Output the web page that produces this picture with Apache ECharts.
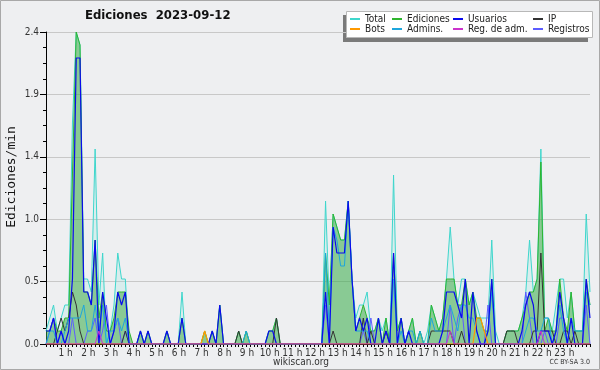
<!DOCTYPE html>
<html>
<head>
<meta charset="utf-8">
<script src="https://cdn.jsdelivr.net/npm/echarts@6/dist/echarts.min.js"></script>
<style>
  html, body { margin: 0; padding: 0; background: #eeeff1; }
  #chart { width: 600px; height: 370px; }
</style>
</head>
<body>
<div id="chart"></div>
<script>
// ── Data: edits per minute, one value per 10 minutes (00:00 .. 24:00) ──
var hourLabels = ['1 h', '2 h', '3 h', '4 h', '5 h', '6 h', '7 h', '8 h', '9 h', '10 h', '11 h', '12 h',
  '13 h', '14 h', '15 h', '16 h', '17 h', '18 h', '19 h', '20 h', '21 h', '22 h', '23 h'];
var yTicks = [0, 0.48, 0.96, 1.44, 1.92, 2.4];

var total = [
  0.1, 0.2, 0.3, 0.1, 0.2, 0.3,   // 0 h
  0.3, 1.7, 2.4, 2.3, 0.5, 0.5,   // 1 h
  0.4, 1.5, 0.3, 0.7, 0.0, 0.1,   // 2 h
  0.3, 0.7, 0.5, 0.5, 0.0, 0.0,   // 3 h
  0.0, 0.1, 0.0, 0.1, 0.0, 0.0,   // 4 h
  0.0, 0.0, 0.1, 0.0, 0.0, 0.0,   // 5 h
  0.4, 0.0, 0.0, 0.0, 0.0, 0.0,   // 6 h
  0.1, 0.0, 0.1, 0.0, 0.3, 0.0,   // 7 h
  0.0, 0.0, 0.0, 0.1, 0.0, 0.1,   // 8 h
  0.0, 0.0, 0.0, 0.0, 0.0, 0.1,   // 9 h
  0.1, 0.2, 0.0, 0.0, 0.0, 0.0,   // 10 h
  0.0, 0.0, 0.0, 0.0, 0.0, 0.0,   // 11 h
  0.0, 0.0, 1.1, 0.3, 1.0, 0.9,   // 12 h
  0.8, 0.8, 1.1, 0.5, 0.2, 0.3,   // 13 h
  0.3, 0.4, 0.1, 0.1, 0.2, 0.1,   // 14 h
  0.2, 0.0, 1.3, 0.1, 0.2, 0.0,   // 15 h
  0.1, 0.2, 0.0, 0.1, 0.0, 0.1,   // 16 h
  0.3, 0.2, 0.1, 0.2, 0.5, 0.9,   // 17 h
  0.5, 0.3, 0.5, 0.5, 0.3, 0.4,   // 18 h
  0.3, 0.2, 0.2, 0.2, 0.8, 0.1,   // 19 h
  0.0, 0.0, 0.1, 0.1, 0.1, 0.1,   // 20 h
  0.2, 0.4, 0.8, 0.4, 0.5, 1.5,   // 21 h
  0.2, 0.2, 0.1, 0.3, 0.5, 0.5,   // 22 h
  0.2, 0.4, 0.1, 0.1, 0.1, 1.0,   // 23 h
  0.4
];

var ediciones = [
  0.1, 0.1, 0.2, 0.1, 0.1, 0.2,
  0.2, 1.3, 2.4, 2.3, 0.4, 0.4,
  0.3, 0.8, 0.2, 0.4, 0.1, 0.1,
  0.2, 0.4, 0.4, 0.4, 0.1, 0.0,
  0.0, 0.1, 0.0, 0.1, 0.0, 0.0,
  0.0, 0.0, 0.1, 0.0, 0.0, 0.0,
  0.2, 0.0, 0.0, 0.0, 0.0, 0.0,
  0.1, 0.0, 0.1, 0.0, 0.3, 0.0,
  0.0, 0.0, 0.0, 0.1, 0.0, 0.1,
  0.0, 0.0, 0.0, 0.0, 0.0, 0.1,
  0.1, 0.2, 0.0, 0.0, 0.0, 0.0,
  0.0, 0.0, 0.0, 0.0, 0.0, 0.0,
  0.0, 0.0, 0.7, 0.3, 1.0, 0.9,
  0.8, 0.8, 1.1, 0.5, 0.1, 0.2,
  0.3, 0.2, 0.1, 0.1, 0.2, 0.0,
  0.2, 0.0, 0.7, 0.1, 0.2, 0.0,
  0.1, 0.2, 0.0, 0.1, 0.0, 0.0,
  0.3, 0.2, 0.1, 0.2, 0.5, 0.5,
  0.5, 0.3, 0.3, 0.5, 0.3, 0.4,
  0.2, 0.2, 0.1, 0.1, 0.5, 0.0,
  0.0, 0.0, 0.1, 0.1, 0.1, 0.1,
  0.2, 0.3, 0.4, 0.4, 0.5, 1.4,
  0.1, 0.2, 0.1, 0.1, 0.5, 0.2,
  0.1, 0.4, 0.1, 0.1, 0.1, 0.5,
  0.3
];

var usuarios = [
  0.1, 0.1, 0.2, 0.0, 0.1, 0.0,
  0.1, 0.5, 2.2, 2.2, 0.4, 0.4,
  0.3, 0.8, 0.0, 0.4, 0.2, 0.0,
  0.1, 0.4, 0.3, 0.4, 0.0, 0.0,
  0.0, 0.1, 0.0, 0.1, 0.0, 0.0,
  0.0, 0.0, 0.1, 0.0, 0.0, 0.0,
  0.2, 0.0, 0.0, 0.0, 0.0, 0.0,
  0.0, 0.0, 0.1, 0.0, 0.3, 0.0,
  0.0, 0.0, 0.0, 0.0, 0.0, 0.0,
  0.0, 0.0, 0.0, 0.0, 0.0, 0.1,
  0.1, 0.0, 0.0, 0.0, 0.0, 0.0,
  0.0, 0.0, 0.0, 0.0, 0.0, 0.0,
  0.0, 0.0, 0.4, 0.0, 0.9, 0.7,
  0.7, 0.7, 1.1, 0.5, 0.1, 0.2,
  0.1, 0.2, 0.0, 0.0, 0.2, 0.0,
  0.1, 0.0, 0.7, 0.0, 0.2, 0.0,
  0.1, 0.0, 0.0, 0.0, 0.0, 0.0,
  0.0, 0.0, 0.0, 0.1, 0.4, 0.4,
  0.4, 0.3, 0.2, 0.5, 0.0, 0.4,
  0.1, 0.0, 0.0, 0.1, 0.5, 0.0,
  0.0, 0.0, 0.0, 0.0, 0.0, 0.0,
  0.1, 0.3, 0.4, 0.3, 0.0, 0.1,
  0.1, 0.1, 0.0, 0.1, 0.4, 0.2,
  0.0, 0.2, 0.0, 0.0, 0.0, 0.5,
  0.2
];

var ip = [
  0.0, 0.0, 0.0, 0.1, 0.2, 0.1,
  0.2, 0.4, 0.3, 0.1, 0.0, 0.0,
  0.0, 0.0, 0.0, 0.0, 0.0, 0.0,
  0.0, 0.0, 0.0, 0.1, 0.0, 0.0,
  0.0, 0.0, 0.0, 0.0, 0.0, 0.0,
  0.0, 0.0, 0.0, 0.0, 0.0, 0.0,
  0.0, 0.0, 0.0, 0.0, 0.0, 0.0,
  0.0, 0.0, 0.0, 0.0, 0.0, 0.0,
  0.0, 0.0, 0.0, 0.1, 0.0, 0.0,
  0.0, 0.0, 0.0, 0.0, 0.0, 0.0,
  0.0, 0.2, 0.0, 0.0, 0.0, 0.0,
  0.0, 0.0, 0.0, 0.0, 0.0, 0.0,
  0.0, 0.0, 0.0, 0.0, 0.1, 0.0,
  0.0, 0.0, 0.0, 0.0, 0.0, 0.0,
  0.2, 0.0, 0.1, 0.0, 0.0, 0.0,
  0.1, 0.0, 0.0, 0.0, 0.0, 0.0,
  0.0, 0.0, 0.0, 0.0, 0.0, 0.0,
  0.1, 0.1, 0.1, 0.1, 0.1, 0.1,
  0.0, 0.0, 0.1, 0.0, 0.0, 0.0,
  0.0, 0.0, 0.0, 0.0, 0.0, 0.0,
  0.0, 0.0, 0.1, 0.1, 0.1, 0.0,
  0.0, 0.0, 0.0, 0.1, 0.1, 0.7,
  0.1, 0.1, 0.1, 0.0, 0.0, 0.1,
  0.1, 0.0, 0.1, 0.0, 0.0, 0.0,
  0.0
];

var bots = [
  0, 0, 0, 0, 0, 0,  0, 0, 0, 0, 0, 0,  0, 0, 0, 0, 0, 0,  0, 0, 0, 0, 0, 0,
  0, 0, 0, 0, 0, 0,  0, 0, 0, 0, 0, 0,  0, 0, 0, 0, 0, 0,
  0.1, 0, 0, 0, 0, 0,
  0, 0, 0, 0, 0, 0,  0, 0, 0, 0, 0, 0,  0, 0, 0, 0, 0, 0,  0, 0, 0, 0, 0, 0,
  0, 0, 0, 0, 0, 0,  0, 0, 0, 0, 0, 0,  0, 0, 0, 0, 0, 0,  0, 0, 0, 0, 0, 0,
  0, 0, 0, 0, 0, 0,  0, 0, 0, 0, 0, 0,  0, 0, 0, 0, 0, 0,
  0.2, 0.2, 0.1, 0, 0, 0,
  0, 0, 0, 0, 0, 0,  0, 0, 0, 0, 0, 0,  0, 0, 0, 0, 0, 0,  0, 0, 0, 0, 0, 0,
  0
];

var admins = [
  0.0, 0.1, 0.1, 0.0, 0.0, 0.1,
  0.2, 0.2, 0.2, 0.2, 0.3, 0.1,
  0.1, 0.3, 0.1, 0.3, 0.0, 0.1,
  0.1, 0.2, 0.1, 0.2, 0.0, 0.0,
  0.0, 0.0, 0.0, 0.0, 0.0, 0.0,
  0.0, 0.0, 0.0, 0.0, 0.0, 0.0,
  0.0, 0.0, 0.0, 0.0, 0.0, 0.0,
  0.0, 0.0, 0.0, 0.0, 0.0, 0.0,
  0.0, 0.0, 0.0, 0.0, 0.0, 0.1,
  0.0, 0.0, 0.0, 0.0, 0.0, 0.0,
  0.0, 0.0, 0.0, 0.0, 0.0, 0.0,
  0.0, 0.0, 0.0, 0.0, 0.0, 0.0,
  0.0, 0.0, 0.7, 0.1, 0.9, 0.8,
  0.6, 0.6, 1.1, 0.5, 0.1, 0.1,
  0.1, 0.1, 0.0, 0.0, 0.0, 0.0,
  0.0, 0.0, 0.5, 0.0, 0.1, 0.0,
  0.1, 0.1, 0.0, 0.1, 0.0, 0.0,
  0.2, 0.1, 0.1, 0.1, 0.2, 0.3,
  0.2, 0.1, 0.3, 0.3, 0.2, 0.2,
  0.1, 0.0, 0.0, 0.1, 0.4, 0.0,
  0.0, 0.0, 0.0, 0.0, 0.0, 0.0,
  0.0, 0.1, 0.2, 0.2, 0.1, 0.1,
  0.2, 0.2, 0.0, 0.1, 0.3, 0.1,
  0.0, 0.2, 0.1, 0.1, 0.1, 0.4,
  0.3
];

var regAdm = [
  0, 0, 0, 0, 0, 0,  0, 0, 0, 0, 0, 0,
  0, 0, 0.1, 0, 0, 0,
  0, 0, 0, 0, 0, 0,  0, 0, 0, 0, 0, 0,  0, 0, 0, 0, 0, 0,  0, 0, 0, 0, 0, 0,
  0, 0, 0, 0, 0, 0,  0, 0, 0, 0, 0, 0,  0, 0, 0, 0, 0, 0,  0, 0, 0, 0, 0, 0,
  0, 0, 0, 0, 0, 0,  0, 0, 0, 0, 0, 0,  0, 0, 0, 0, 0, 0,  0, 0, 0, 0, 0, 0,
  0, 0, 0, 0, 0, 0,  0, 0, 0, 0, 0, 0,
  0, 0, 0, 0, 0, 0.1,
  0, 0, 0, 0, 0, 0,  0, 0, 0, 0, 0, 0,  0, 0, 0, 0, 0, 0,
  0, 0, 0, 0, 0, 0.1,
  0, 0, 0, 0, 0, 0,  0, 0, 0, 0, 0, 0,
  0
];

var registros = [
  0.0, 0.1, 0.2, 0.0, 0.1, 0.0,
  0.0, 0.2, 0.0, 0.0, 0.0, 0.1,
  0.1, 0.2, 0.0, 0.1, 0.3, 0.0,
  0.1, 0.2, 0.0, 0.1, 0.0, 0.0,
  0, 0, 0, 0, 0, 0,  0, 0, 0, 0, 0, 0,  0, 0, 0, 0, 0, 0,  0, 0, 0, 0, 0, 0,
  0, 0, 0, 0, 0, 0,  0, 0, 0, 0, 0, 0,  0, 0, 0, 0, 0, 0,  0, 0, 0, 0, 0, 0,
  0.0, 0.0, 0.3, 0.0, 0.0, 0.0,
  0.0, 0.0, 0.0, 0.0, 0.0, 0.0,
  0.1, 0.0, 0.2, 0.0, 0.0, 0.0,
  0, 0, 0, 0, 0, 0,  0, 0, 0, 0, 0, 0,
  0.0, 0.0, 0.0, 0.0, 0.0, 0.3,
  0.0, 0.2, 0.3, 0.0, 0.0, 0.0,
  0.0, 0.0, 0.0, 0.3, 0.0, 0.0,
  0, 0, 0, 0, 0, 0,
  0.0, 0.4, 0.2, 0.0, 0.0, 0.0,
  0.1, 0.0, 0.0, 0.0, 0.2, 0.2,
  0.0, 0.0, 0.0, 0.0, 0.0, 0.3,
  0.0
];

// ── Categories: 145 ten-minute steps, labelled on the hour ──
var categories = [];
for (var i = 0; i <= 144; i++) {
  categories.push(i % 6 === 0 && i > 0 && i < 144 ? hourLabels[i / 6 - 1] : '');
}

var FONT = '"DejaVu Sans Condensed", "DejaVu Sans"';

function lineSeries(name, data, color, width, area) {
  var s = {
    name: name,
    type: 'line',
    data: data,
    showSymbol: false,
    symbol: 'none',
    lineStyle: { color: color, width: width },
    itemStyle: { color: color },
    emphasis: { disabled: true }
  };
  if (area) s.areaStyle = { color: area, opacity: 1 };
  return s;
}

function legendCol(names, left) {
  return {
    orient: 'vertical',
    left: left,
    top: 14,
    padding: 0,
    itemGap: 0,
    itemWidth: 10,
    itemHeight: 2,
    icon: 'rect',
    selectedMode: false,
    textStyle: { fontFamily: FONT, fontSize: 10, lineHeight: 10, color: '#222' },
    data: names
  };
}

var chart = echarts.init(document.getElementById('chart'));

chart.setOption({
  animation: false,
  backgroundColor: '#eeeff1',
  grid: { left: 46, right: 10, top: 32, bottom: 26 },
  legend: [
    legendCol(['Total', 'Bots'], 350),
    legendCol(['Ediciones', 'Admins.'], 392),
    legendCol(['Usuarios', 'Reg. de adm.'], 453),
    legendCol(['IP', 'Registros'], 533)
  ],
  xAxis: {
    type: 'category',
    data: categories,
    boundaryGap: false,
    axisLine: { lineStyle: { color: '#000', width: 1 } },
    axisTick: { interval: 0, length: 3, lineStyle: { color: '#000' } },
    axisLabel: {
      interval: function (idx, val) { return val !== ''; },
      fontFamily: FONT, fontSize: 10, color: '#333', margin: 4,
      padding: [0, 6, 0, 0]
    },
    splitLine: { show: false }
  },
  yAxis: {
    type: 'value',
    min: yTicks[0],
    max: yTicks[yTicks.length - 1],
    interval: yTicks[1],
    axisLine: { show: true, lineStyle: { color: '#000', width: 1 } },
    axisTick: { show: true, length: 6, lineStyle: { color: '#000' } },
    minorTick: { show: true, splitNumber: 4, length: 3, lineStyle: { color: '#000' } },
    axisLabel: {
      formatter: function (v) { return v.toFixed(1); },
      fontFamily: FONT, fontSize: 10, color: '#333', margin: 7
    },
    splitLine: { lineStyle: { color: '#c8c8c8', width: 1 } }
  },
  series: [
    lineSeries('Total', total, '#3ed6cc', 1, 'rgba(120,225,220,0.18)'),
    lineSeries('Ediciones', ediciones, '#2fb52f', 1, 'rgba(40,160,40,0.45)'),
    lineSeries('Registros', registros, '#5c5cff', 1),
    lineSeries('IP', ip, '#333333', 1),
    lineSeries('Admins.', admins, '#1ea6dc', 1),
    lineSeries('Usuarios', usuarios, '#0a0aee', 1.2),
    lineSeries('Bots', bots, '#ff9900', 1.2),
    lineSeries('Reg. de adm.', regAdm, '#cc33cc', 1)
  ],
  graphic: [
    // legend frame with drop shadow
    { type: 'rect', z: 0, shape: { x: 343, y: 15, width: 245, height: 27 }, style: { fill: '#7a7a7a' } },
    { type: 'rect', z: 1, shape: { x: 346.5, y: 11.5, width: 246, height: 26 }, style: { fill: '#fff', stroke: '#b8b8b8', lineWidth: 1 } },
    { type: 'text', left: 85, top: 9, style: { text: 'Ediciones  2023-09-12', font: 'bold 13px ' + FONT, fill: '#111' } },
    { type: 'text', x: 12, y: 177, rotation: Math.PI / 2,
      style: { text: 'Ediciones/min', font: '13px "DejaVu Sans Mono"', fill: '#111', align: 'center', verticalAlign: 'middle' } },
    { type: 'text', x: 301, y: 362, style: { text: 'wikiscan.org', font: '10px ' + FONT, fill: '#333', align: 'center', verticalAlign: 'middle' } },
    { type: 'text', x: 590, y: 362, style: { text: 'CC BY-SA 3.0', font: '7px ' + FONT, fill: '#333', align: 'right', verticalAlign: 'middle' } },
    // outer frame
    { type: 'rect', shape: { x: 0.5, y: 0.5, width: 599, height: 369 }, style: { fill: 'none', stroke: '#a8a8a8', lineWidth: 1 } }
  ]
});
</script>
</body>
</html>
